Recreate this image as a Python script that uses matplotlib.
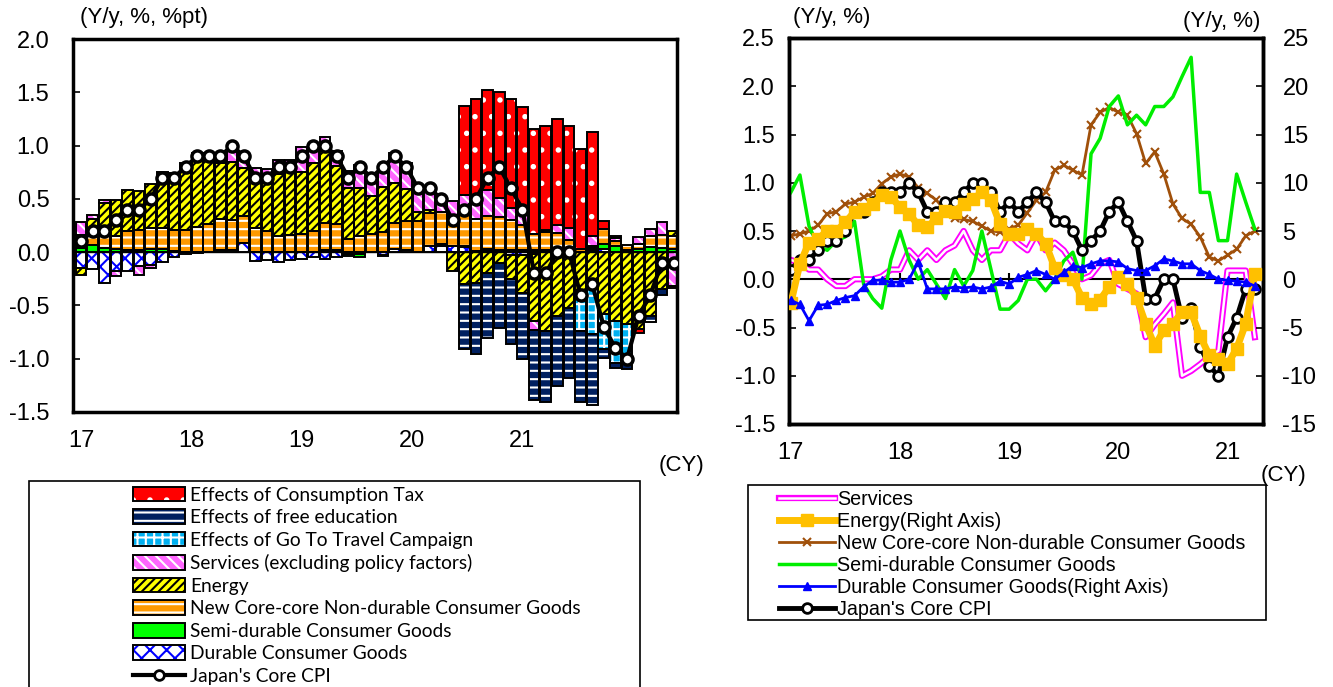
import numpy as np
import matplotlib
matplotlib.use('Agg')
import matplotlib.pyplot as plt
from matplotlib.patches import Patch, Rectangle
from matplotlib.lines import Line2D

plt.rcParams['font.family'] = ['Liberation Sans', 'DejaVu Sans']
plt.rcParams['hatch.linewidth'] = 1.5

# --- data: Jan 2017 .. Apr 2021, monthly ---
year_labels = ['17', '18', '19', '20', '21']

# left panel: contributions (%pt)
durable = [-0.15, -0.16, -0.29, -0.18, -0.18, -0.13, -0.12, -0.09, -0.05, -0.02, -0.01, 0.0,
           0.0, 0.0, 0.09, -0.08, -0.07, -0.09, -0.07, -0.06, -0.05, -0.06, -0.05, -0.02,
           -0.02, 0.0, -0.03, 0.03, 0.02, 0.0, 0.06, 0.06, 0.06, 0.05, 0.0, 0.02,
           0.0, -0.03, -0.03, -0.02, 0.0, 0.0, 0.0, 0.0, 0.02, 0.03, 0.0, 0.0,
           0.0, 0.0, 0.0, 0.0]
semi = [0.04, 0.07, 0.04, 0.03, 0.02, 0.02, 0.03, 0.03, 0.01, 0.0, 0.0, 0.0,
        0.02, 0.02, 0.0, 0.0, 0.0, 0.0, 0.0, 0.0, 0.0, 0.02, 0.02, -0.02,
        -0.03, 0.0, -0.01, 0.0, 0.0, 0.0, 0.0, 0.02, 0.0, 0.01, 0.01, 0.01,
        0.02, 0.02, 0.02, 0.02, 0.02, 0.02, 0.02, 0.0, 0.02, 0.05, 0.06, 0.02,
        0.03, 0.05, 0.04, 0.03]
newcc = [0.12, 0.085, 0.17, 0.125, 0.18, 0.19, 0.2, 0.2, 0.2, 0.21, 0.24, 0.26,
         0.29, 0.28, 0.25, 0.23, 0.2, 0.15, 0.16, 0.17, 0.2, 0.25, 0.24, 0.12,
         0.15, 0.17, 0.19, 0.24, 0.27, 0.29, 0.31, 0.3, 0.26, 0.29, 0.3, 0.31,
         0.31, 0.28, 0.23, 0.15, 0.17, 0.16, 0.09, 0.03, 0.02, 0.14, 0.04, 0.05,
         0.05, 0.1, 0.12, 0.12]
energy = [-0.06, 0.16, 0.25, 0.33, 0.38, 0.36, 0.41, 0.52, 0.53, 0.63, 0.69, 0.6,
          0.53, 0.55, 0.45, 0.42, 0.45, 0.58, 0.59, 0.58, 0.64, 0.68, 0.55, 0.48,
          0.45, 0.36, 0.42, 0.38, 0.3, 0.09, 0.03, 0.0, -0.18, -0.3, -0.29, -0.2,
          -0.1, -0.22, -0.35, -0.63, -0.74, -0.6, -0.52, -0.43, -0.32, -0.58, -0.65, -0.67,
          -0.72, -0.6, -0.35, 0.05]
services = [0.12, 0.03, 0.03, -0.04, 0.0, -0.08, -0.03, 0.0, 0.0, 0.0, 0.0, 0.02,
            0.04, 0.15, 0.12, 0.14, 0.13, 0.13, 0.11, 0.24, 0.16, 0.13, 0.14, 0.16,
            0.22, 0.19, 0.19, 0.28, 0.25, 0.2, 0.16, 0.09, 0.16, 0.19, 0.17, 0.24,
            0.18, 0.11, 0.11, -0.08, 0.02, 0.07, 0.12, 0.0, 0.09, 0.0, 0.03, 0.0,
            0.06, 0.07, 0.12, -0.32]
goto = [0, 0, 0, 0, 0, 0, 0, 0, 0, 0, 0, 0,
        0, 0, 0, 0, 0, 0, 0, 0, 0, 0, 0, 0,
        0, 0, 0, 0, 0, 0, 0, 0, 0, 0, 0, 0,
        0, 0, 0, 0, 0, 0, 0, -0.31, -0.45, -0.33, -0.39, -0.34,
        0, 0, 0, 0]
education = [0, 0, 0, 0, 0, 0, 0, 0, 0, 0, 0, 0,
             0, 0, 0, 0, 0, 0, 0, 0, 0, 0, 0, 0,
             0, 0, 0, 0, 0, 0, 0, 0, 0, -0.61, -0.67, -0.61,
             -0.61, -0.61, -0.62, -0.66, -0.67, -0.66, -0.66, -0.67, -0.66, -0.08, -0.05, -0.09,
             0.0, -0.06, -0.05, 0.0]
tax = [0, 0, 0, 0, 0, 0, 0, 0, 0, 0, 0, 0,
       0, 0, 0, 0, 0, 0, 0, 0, 0, 0, 0, 0,
       0, 0, 0, 0, 0, 0, 0, 0, 0, 0.83, 0.96, 0.94,
       0.99, 1.03, 1.0, 0.99, 0.97, 1.0, 0.95, 0.94, 0.98, 0.07, 0.02, 0.0,
       -0.04, 0.0, 0.0, -0.02]
core_cpi = [0.1, 0.2, 0.2, 0.3, 0.4, 0.4, 0.5, 0.7, 0.7, 0.8, 0.9, 0.9,
            0.9, 1.0, 0.9, 0.7, 0.7, 0.8, 0.8, 0.9, 1.0, 1.0, 0.9, 0.7,
            0.8, 0.7, 0.8, 0.9, 0.8, 0.6, 0.6, 0.5, 0.3, 0.4, 0.5, 0.7,
            0.8, 0.6, 0.4, -0.2, -0.2, 0.0, 0.0, -0.4, -0.3, -0.7, -0.9, -1.0,
            -0.6, -0.4, -0.1, -0.1]

# right panel: y/y (%)
r_services = [0.2, 0.17, 0.1, 0.1, 0.0, -0.07, -0.07, 0.0, 0.0, 0.0, 0.03, 0.1,
              0.1, 0.3, 0.2, 0.3, 0.2, 0.3, 0.35, 0.5, 0.3, 0.2, 0.3, 0.3,
              0.47, 0.37, 0.3, 0.47, 0.3, 0.38, 0.3, 0.16, 0.0, 0.04, 0.16, 0.2,
              -0.05, -0.1, -0.15, -0.6, -0.47, -0.36, -0.24, -1.0, -0.95, -0.88, -0.8, -0.74,
              0.09, 0.09, 0.09, -0.6]
r_newcc = [0.45, 0.47, 0.5, 0.56, 0.68, 0.7, 0.78, 0.8, 0.85, 0.89, 0.99, 1.06,
           1.09, 1.06, 0.95, 0.89, 0.82, 0.71, 0.63, 0.62, 0.6, 0.55, 0.5, 0.49,
           0.52, 0.56, 0.69, 0.82, 0.9, 1.13, 1.18, 1.13, 1.08, 1.6, 1.73, 1.78,
           1.73, 1.7, 1.51, 1.2, 1.32, 1.09, 0.78, 0.63, 0.57, 0.44, 0.23, 0.19,
           0.25, 0.31, 0.45, 0.5]
r_semi = [0.9, 1.08, 0.55, 0.35, 0.3, 0.4, 0.44, 0.6, -0.05, -0.2, -0.3, 0.2,
          0.5, 0.2, 0.0, 0.1, -0.05, -0.2, 0.1, -0.07, 0.09, 0.5, 0.1, -0.31,
          -0.31, -0.22, 0.0, 0.0, -0.12, 0.0, 0.19, 0.28, 0.0, 1.3, 1.46, 1.79,
          1.9, 1.6, 1.7, 1.6, 1.79, 1.79, 1.89, 2.1, 2.3, 0.9, 0.9, 0.4,
          0.4, 1.09, 0.8, 0.52]
r_energy = [-2.5, 1.6, 3.8, 4.2, 5.0, 5.0, 5.9, 7.0, 7.3, 7.8, 8.7, 8.5,
            7.5, 6.8, 5.6, 5.4, 6.3, 7.1, 7.0, 7.8, 8.3, 9.0, 8.2, 5.7,
            4.7, 4.7, 5.2, 4.7, 3.7, 1.2, 0.4, 0.0, -1.9, -2.6, -2.1, -0.8,
            0.2, -0.5, -1.9, -4.6, -6.9, -5.3, -4.6, -3.4, -3.4, -5.9, -7.9, -8.3,
            -8.8, -7.2, -4.6, 0.5]
r_durable = [-2.2, -2.6, -4.3, -2.7, -2.6, -2.2, -1.9, -1.7, -0.8, -0.1, -0.1, -0.3,
             -0.3, 0.0, 1.8, -1.0, -1.0, -1.0, -0.8, -0.9, -0.8, -1.0, -0.8, -0.2,
             -0.5, 0.2, 0.5, 0.9, 0.5, 0.0, 0.7, 1.4, 1.2, 1.6, 1.9, 1.9,
             1.8, 1.1, 0.9, 0.9, 1.4, 2.1, 1.9, 1.6, 1.6, 0.9, 0.5, 0.0,
             -0.1, -0.2, -0.3, -0.7]

W, H = 1333, 687
fig = plt.figure(figsize=(W / 100, H / 100), dpi=100)

def fx(px):
    return px / W

def fy(py):
    return 1 - py / H

# ---------------- left panel: stacked contributions ----------------
ax1 = fig.add_axes([fx(73), fy(412), fx(604), 373 / H])
n = len(core_cpi)
x = np.arange(n)

# (values, face, hatch colour, hatch, legend label) in stacking order
series = [
    (durable, 'white', '#0000FF', 'xx', 'Durable Consumer Goods'),
    (semi, '#00FF00', '#00FF00', None, 'Semi-durable Consumer Goods'),
    (newcc, '#FF9900', 'white', '--', 'New Core-core Non-durable Consumer Goods'),
    (energy, '#FFFF00', 'black', '////', 'Energy'),
    (services, '#FF66FF', 'white', '\\\\\\', 'Services (excluding policy factors)'),
    (goto, '#00B0F0', 'white', '++', 'Effects of Go To Travel Campaign'),
    (education, '#002060', 'white', '--', 'Effects of free education'),
    (tax, '#FF0000', 'white', '.', 'Effects of Consumption Tax'),
]

pos = np.zeros(n)
neg = np.zeros(n)
bw = 0.92
for vals, fc, hc, hatch, lab in series:
    v = np.array(vals, dtype=float)
    bottom = np.where(v >= 0, pos, neg)
    m = v != 0
    ax1.bar(x[m], v[m], bw, bottom=bottom[m], color=fc, edgecolor=hc, hatch=hatch,
            linewidth=0, zorder=2)
    ax1.bar(x[m], v[m], bw, bottom=bottom[m], fill=False, edgecolor='black',
            linewidth=1.4, zorder=3)
    pos += np.where(v > 0, v, 0)
    neg += np.where(v < 0, v, 0)

ax1.axhline(0, color='black', lw=1, zorder=3)
ax1.plot(x, core_cpi, color='black', lw=3, marker='o', ms=8, mfc='white',
         mec='black', mew=2.5, zorder=5)

ax1.set_xlim(-0.69, 51.3)
ax1.set_ylim(-1.5, 2.0)
ticks = np.arange(-1.5, 2.01, 0.5)
ax1.set_yticks(ticks)
ax1.set_yticklabels(['%.1f' % t for t in ticks], fontsize=17)
ax1.tick_params(axis='y', direction='in', length=5, width=1.2, pad=17)
ax1.set_xticks(np.linspace(0, 38, 5))
ax1.set_xticklabels(year_labels, fontsize=17)
ax1.tick_params(axis='x', length=0, pad=13)
for s in ax1.spines.values():
    s.set_linewidth(2.5)

fig.text(fx(80), fy(18), '(Y/y, %, %pt)', fontsize=16, va='center')
fig.text(fx(682), fy(465), '(CY)', fontsize=16, va='center', ha='center')

# left legend
handles = []
labels = []
for vals, fc, hc, hatch, lab in reversed(series):
    handles.append((Patch(facecolor=fc, edgecolor=hc, hatch=hatch, linewidth=0),
                    Patch(fill=False, edgecolor='black', linewidth=1.4)))
    labels.append(lab)
handles.append(Line2D([], [], color='black', lw=3, marker='o', ms=7, mfc='white',
                      mec='black', mew=2))
labels.append("Japan's Core CPI")

fig.patches.append(Rectangle((fx(29), -0.01), fx(611), (687 - 481) / H + 0.01,
                             transform=fig.transFigure, fill=False,
                             edgecolor='black', lw=1.2))
fig.legend(handles, labels, loc='upper left', bbox_to_anchor=(fx(121), fy(475)),
           frameon=False, prop={'family': 'Lato', 'size': 13.8}, handlelength=2.75,
           handleheight=0.8, handletextpad=0.25, labelspacing=0.29, borderpad=0.1,
           numpoints=1)

# ---------------- right panel: y/y lines ----------------
ax2 = fig.add_axes([fx(789), fy(424), fx(474), 386 / H])
ax3 = ax2.twinx()

ax2.axhline(0, color='black', lw=1.5, zorder=1)
year_pos = [12, 24, 36, 48]
ax2.vlines(year_pos, -0.06, 0.06, color='black', lw=1.5, zorder=1)

ax2.plot(x, r_services, color='#FF00FF', lw=4.5, zorder=2)
ax2.plot(x, r_services, color='white', lw=1.8, zorder=2)
ax2.plot(x, r_newcc, color='#A0500A', lw=2, marker='x', ms=6, mew=1.5, zorder=3)
ax2.plot(x, r_semi, color='#00EE00', lw=2.5, zorder=3)
ax2.plot(x, core_cpi, color='black', lw=3.5, marker='o', ms=7, mfc='white',
         mec='black', mew=2, zorder=4)
ax3.plot(x, r_energy, color='#FFC000', lw=5, marker='s', ms=8, zorder=3)
ax3.plot(x, r_durable, color='#0000FF', lw=2, marker='^', ms=6, zorder=4)

ax2.set_xlim(-0.2, 51.9)
ax2.set_ylim(-1.5, 2.5)
ax3.set_ylim(-15, 25)
lt = np.arange(-1.5, 2.51, 0.5)
ax2.set_yticks(lt)
ax2.set_yticklabels(['%.1f' % t for t in lt], fontsize=17)
rt = np.arange(-15, 26, 5)
ax3.set_yticks(rt)
ax3.set_yticklabels(['%d' % t for t in rt], fontsize=17)
ax2.tick_params(axis='y', direction='in', length=5, width=1.2, pad=10)
ax3.tick_params(axis='y', direction='in', length=5, width=1.2, pad=14)
ax2.set_xticks([0, 12, 24, 36, 48])
ax2.set_xticklabels(year_labels, fontsize=17)
ax2.tick_params(axis='x', length=0, pad=13)
for a in (ax2, ax3):
    for s in a.spines.values():
        s.set_linewidth(2.5)

fig.text(fx(793), fy(18), '(Y/y, %)', fontsize=16, va='center')
fig.text(fx(1260), fy(22), '(Y/y, %)', fontsize=16, va='center', ha='right')
fig.text(fx(1283), fy(475), '(CY)', fontsize=16, va='center', ha='center')

# right legend
r_handles = [
    (Line2D([], [], color='#FF00FF', lw=4.5), Line2D([], [], color='white', lw=1.8)),
    Line2D([], [], color='#FFC000', lw=5, marker='s', ms=8),
    Line2D([], [], color='#A0500A', lw=2, marker='x', ms=6, mew=1.5),
    Line2D([], [], color='#00EE00', lw=2.5),
    Line2D([], [], color='#0000FF', lw=2, marker='^', ms=6),
    Line2D([], [], color='black', lw=3.5, marker='o', ms=7, mfc='white', mec='black', mew=2),
]
r_labels = ['Services', 'Energy(Right Axis)', 'New Core-core Non-durable Consumer Goods',
            'Semi-durable Consumer Goods', 'Durable Consumer Goods(Right Axis)',
            "Japan's Core CPI"]
fig.patches.append(Rectangle((fx(748), fy(620)), fx(518), (620 - 485) / H,
                             transform=fig.transFigure, fill=False,
                             edgecolor='black', lw=1.2))
fig.legend(r_handles, r_labels, loc='upper left', bbox_to_anchor=(fx(767), fy(478)),
           frameon=False, fontsize=14.2, handlelength=2.85, handletextpad=0.1,
           labelspacing=0.15, borderpad=0.1, numpoints=1)

fig.savefig('out.png', dpi=100)
